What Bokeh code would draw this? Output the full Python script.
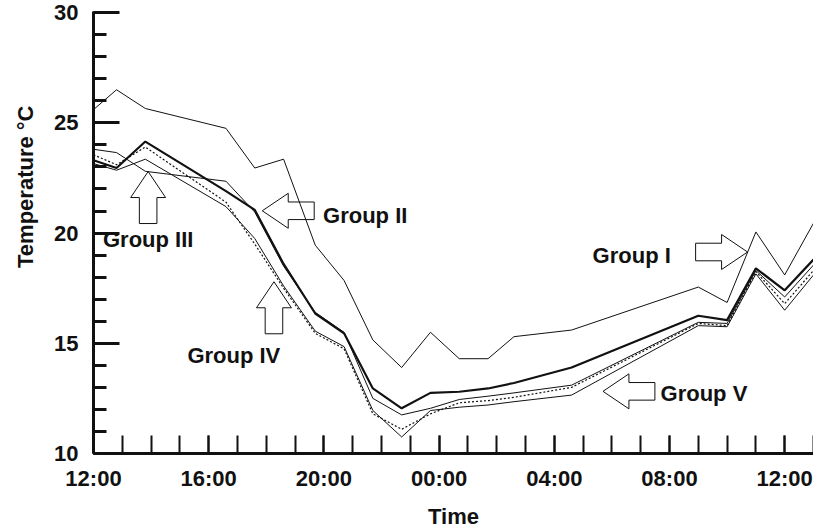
import math
from bokeh.plotting import figure
from bokeh.models import Range1d, FixedTicker, Title, ColumnDataSource
from bokeh.core.properties import value
from bokeh.embed import file_html
from bokeh.resources import INLINE

# ---- data (hours after 12:00, temperature in °C) ----
hours = [0, 0.8, 1.8, 4.6, 5.6, 6.6, 7.7, 8.7, 9.7, 10.7, 11.7, 12.7, 13.7, 14.6, 16.6, 21.0, 22.0, 23.0, 24.0, 25.0]
group_i = [25.6, 26.5, 25.65, 24.75, 22.95, 23.35, 19.45, 17.85, 15.15, 13.9, 15.5, 14.3, 14.3, 15.3, 15.6, 17.55, 16.85, 20.05, 18.1, 20.45]
group_ii = [23.3, 22.95, 24.15, 21.9, 21.05, 18.6, 16.35, 15.45, 12.95, 12.05, 12.75, 12.8, 12.95, 13.2, 13.9, 16.25, 16.05, 18.4, 17.4, 18.8]
group_iii = [23.8, 23.65, 22.8, 22.35, 20.95, 18.5, 16.4, 15.5, 12.5, 11.75, 12.05, 12.45, 12.6, 12.75, 13.1, 15.95, 15.9, 18.3, 17.1, 18.55]
group_iv = [23.55, 23.1, 23.9, 21.4, 19.5, 17.5, 15.45, 14.75, 11.8, 11.1, 11.8, 12.3, 12.4, 12.55, 13.0, 15.9, 15.8, 18.25, 16.8, 18.3]
group_v = [23.15, 22.85, 23.35, 21.2, 19.75, 17.6, 15.55, 14.85, 11.95, 10.75, 11.95, 12.1, 12.2, 12.35, 12.65, 15.8, 15.75, 18.15, 16.5, 18.1]

x_tick_values = [0, 4, 8, 12, 16, 20, 24]
x_tick_labels = ["12:00", "16:00", "20:00", "00:00", "04:00", "08:00", "12:00"]
y_tick_values = [10, 15, 20, 25, 30]

group_names = ["Group I", "Group II", "Group III", "Group IV", "Group V"]
# annotation: label anchor (left, middle) and arrow tip, direction
label_pos = [(17.33, 19.0), (7.97, 20.8), (0.33, 19.7), (3.26, 14.45), (19.69, 12.7)]
arrow_tips = [(22.71, 19.14), (5.86, 21.01), (1.897, 22.79), (6.266, 17.79), (17.69, 12.82)]
arrow_dirs = ["right", "left", "up", "up", "left"]

INK = "#111111"
FONT = "Liberation Sans"
FS = "22px"

W, H = 813, 531
LEFT, TOP, BOTTOM = 92, 11, 78
XR = (0, 25)
YR = (10, 30.05)

p = figure(width=W, height=H, output_backend="svg", toolbar_location=None,
           x_range=Range1d(*XR), y_range=Range1d(*YR),
           min_border_left=LEFT, min_border_right=0, min_border_top=TOP,
           min_border_bottom=BOTTOM, background_fill_color="white",
           border_fill_color="white")
p.outline_line_color = None
p.grid.visible = False

# axes
xa = p.xaxis[0]
xa.ticker = FixedTicker(ticks=x_tick_values, minor_ticks=list(range(0, 26)))
xa.major_label_overrides = {v: l for v, l in zip(x_tick_values, x_tick_labels)}
xa.axis_label = "Time"
ya = p.yaxis[0]
ya.ticker = FixedTicker(ticks=y_tick_values, minor_ticks=list(range(10, 31)))

for ax in (xa, ya):
    ax.axis_line_width = 3
    ax.axis_line_color = INK
    ax.major_tick_line_color = INK
    ax.minor_tick_line_color = INK
    ax.major_tick_out = 0
    ax.minor_tick_out = 0
    ax.major_label_text_font = FONT
    ax.major_label_text_font_style = "bold"
    ax.major_label_text_font_size = FS
    ax.major_label_text_color = INK
    ax.axis_label_text_font = FONT
    ax.axis_label_text_font_style = "bold"
    ax.axis_label_text_font_size = FS
    ax.axis_label_text_color = INK

xa.major_tick_in = 18
xa.minor_tick_in = 18
xa.major_tick_line_width = 2
xa.minor_tick_line_width = 2
xa.major_label_standoff = 12
xa.axis_label_standoff = 10

ya.major_tick_in = 26
ya.minor_tick_in = 13
ya.major_tick_line_width = 3
ya.minor_tick_line_width = 3
ya.major_label_standoff = 15

# y axis title, placed in the left panel and shifted upward
ytitle = Title(text="Temperature °C", align="right", offset=94, standoff=24,
               vertical_align="top",
               text_font=FONT, text_font_style="bold", text_font_size=FS,
               text_color=INK)
p.add_layout(ytitle, "left")

# series
p.line(hours, group_i, line_color=INK, line_width=1)
p.line(hours, group_iii, line_color=INK, line_width=1)
p.line(hours, group_v, line_color=INK, line_width=1)
p.line(hours, group_iv, line_color=INK, line_width=1.2, line_dash="2 2")
p.line(hours, group_ii, line_color=INK, line_width=2.2)

# block arrows (sizes in pixels converted through the scale)
px_x = (W - LEFT) / (XR[1] - XR[0])
px_y = (H - TOP - BOTTOM) / (YR[1] - YR[0])
HL, HW, SW, L = 26, 17.5, 8.8, 52
shape_up = [(0, 0), (HW, -HL), (SW, -HL), (SW, -L), (-SW, -L), (-SW, -HL), (-HW, -HL)]

def rot(pt, d):
    x, y = pt
    if d == "up":
        return (x, y)
    if d == "left":   # arrow points left: tail to the right
        return (-y, x)
    if d == "right":
        return (y, x)
    return (x, -y)

axs, ays = [], []
for (tx, ty), d in zip(arrow_tips, arrow_dirs):
    pts = [rot(pt, d) for pt in shape_up]
    axs.append([tx + dx / px_x for dx, dy in pts])
    ays.append([ty + dy / px_y for dx, dy in pts])
p.patches(axs, ays, fill_color=None, line_color=INK, line_width=1)

src = ColumnDataSource(dict(x=[a for a, b in label_pos], y=[b for a, b in label_pos], t=group_names))
p.text(x="x", y="y", text="t", source=src, text_font=value(FONT), text_font_style="bold",
       text_font_size=FS, text_align="left", text_baseline="middle", text_color=INK)

open("out.html", "w").write(file_html(p, INLINE))
